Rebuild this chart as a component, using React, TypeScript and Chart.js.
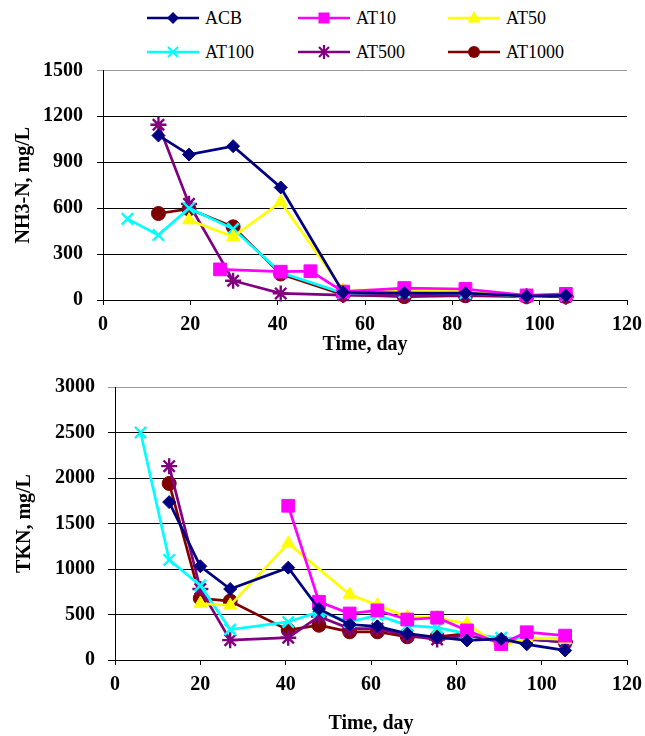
import React, { useEffect, useRef } from 'react';
import { Chart, registerables } from 'chart.js';

Chart.register(...registerables);

// ---------- data ----------
const SERIES_NAMES = ['ACB', 'AT10', 'AT50', 'AT100', 'AT500', 'AT1000'];

// NH3-N (top chart)
const NH3_ACB_DAYS = [12.7, 19.7, 29.8, 40.7, 55, 69, 83, 97, 106];
const NH3_ACB = [1075, 950, 1005, 735, 50, 45, 45, 25, 30];
const NH3_AT10_DAYS = [26.8, 40.7, 47.5, 55, 69, 83, 97, 106];
const NH3_AT10 = [200, 185, 188, 55, 78, 72, 30, 40];
const NH3_AT50_DAYS = [19.7, 29.8, 40.7, 55, 69, 83, 97, 106];
const NH3_AT50 = [522, 413, 640, 65, 65, 58, 20, 35];
const NH3_AT100_DAYS = [5.6, 12.7, 19.7, 29.8, 40.7, 55, 69, 83, 97, 106];
const NH3_AT100 = [530, 424, 600, 465, 180, 45, 50, 45, 25, 30];
const NH3_AT500_DAYS = [12.7, 19.7, 29.8, 40.7, 55, 69, 83, 97, 106];
const NH3_AT500 = [1145, 628, 126, 43, 32, 28, 32, 25, 22];
const NH3_AT1000_DAYS = [12.7, 19.7, 29.8, 40.7, 55, 69, 83, 97, 106];
const NH3_AT1000 = [565, 595, 478, 170, 35, 22, 28, 22, 22];

// TKN (bottom chart)
const TKN_ACB_DAYS = [12.7, 20, 27, 40.6, 47.8, 55, 61.5, 68.5, 75.5, 82.5, 90.5, 96.5, 105.5];
const TKN_ACB = [1735, 1030, 780, 1015, 560, 390, 370, 290, 250, 215, 232, 172, 105];
const TKN_AT10_DAYS = [40.6, 47.8, 55, 61.5, 68.5, 75.5, 82.5, 90.5, 96.5, 105.5];
const TKN_AT10 = [1695, 640, 511, 545, 445, 465, 325, 175, 305, 268];
const TKN_AT50_DAYS = [20, 27, 40.6, 55, 61.5, 68.5, 75.5, 82.5, 90.5, 96.5, 105.5];
const TKN_AT50 = [620, 600, 1282, 720, 603, 474, 463, 398, 145, 245, 225];
const TKN_AT100_DAYS = [6, 12.7, 20, 27, 40.6, 47.8, 55, 61.5, 68.5, 75.5, 82.5, 90.5, 96.5, 105.5];
const TKN_AT100 = [2500, 1100, 820, 335, 418, 530, 420, 492, 381, 355, 290, 244, 235, 233];
const TKN_AT500_DAYS = [12.7, 20, 27, 40.6, 47.8, 55, 61.5, 68.5, 75.5, 82.5, 90.5, 96.5, 105.5];
const TKN_AT500 = [2130, 780, 218, 245, 478, 345, 345, 270, 225, 272, 200, 225, 200];
const TKN_AT1000_DAYS = [12.7, 20, 27, 40.6, 47.8, 55, 61.5, 68.5, 75.5, 82.5, 90.5, 96.5, 105.5];
const TKN_AT1000 = [1940, 678, 648, 328, 382, 310, 310, 255, 255, 289, 190, 233, 196];

const X_TICKS = [0, 20, 40, 60, 80, 100, 120];
const NH3_Y_TICKS = [0, 300, 600, 900, 1200, 1500];
const TKN_Y_TICKS = [0, 500, 1000, 1500, 2000, 2500, 3000];

// ---------- styles ----------
const COLORS = ['#000080', '#FF00FF', '#FFFF00', '#00FFFF', '#800080', '#800000'];
const POINT_STYLES = ['rectRot', 'rect', 'triangle', 'crossRot', 'star', 'circle'];
const POINT_RADII = [6.5, 9, 7.5, 8, 8, 7];
const FONT = '"Liberation Serif", "Times New Roman", serif';

function pairs(days: number[], vals: number[]) {
  return days.map((d, i) => ({ x: d, y: vals[i] }));
}

const NH3_DATA = [
  pairs(NH3_ACB_DAYS, NH3_ACB),
  pairs(NH3_AT10_DAYS, NH3_AT10),
  pairs(NH3_AT50_DAYS, NH3_AT50),
  pairs(NH3_AT100_DAYS, NH3_AT100),
  pairs(NH3_AT500_DAYS, NH3_AT500),
  pairs(NH3_AT1000_DAYS, NH3_AT1000),
];
const TKN_DATA = [
  pairs(TKN_ACB_DAYS, TKN_ACB),
  pairs(TKN_AT10_DAYS, TKN_AT10),
  pairs(TKN_AT50_DAYS, TKN_AT50),
  pairs(TKN_AT100_DAYS, TKN_AT100),
  pairs(TKN_AT500_DAYS, TKN_AT500),
  pairs(TKN_AT1000_DAYS, TKN_AT1000),
];

type Cfg = {
  data: { x: number; y: number }[][];
  yTicks: number[];
  yTitle: string;
  yWidth: number;
  xHeight: number;
  padTop: number;
  padRight: number;
  yTickLen: number;
  yTickPad: number;
  xTickPad: number;
  xTitlePadBottom: number;
  yTitlePadTop: number;
};

function makeChart(canvas: HTMLCanvasElement, cfg: Cfg) {
  const yMax = cfg.yTicks[cfg.yTicks.length - 1];
  const yStep = cfg.yTicks[1] - cfg.yTicks[0];
  return new Chart(canvas, {
    type: 'line',
    data: {
      datasets: cfg.data.map((d, i) => ({
        label: SERIES_NAMES[i],
        data: d,
        borderColor: COLORS[i],
        backgroundColor: COLORS[i],
        pointBackgroundColor: COLORS[i],
        pointBorderColor: COLORS[i],
        pointStyle: POINT_STYLES[i] as any,
        pointRadius: POINT_RADII[i],
        pointBorderWidth: i === 3 || i === 4 ? 2.4 : 1,
        borderWidth: 2.7,
        tension: 0,
        clip: false as any,
      })),
    },
    options: {
      animation: false,
      responsive: false,
      events: [],
      layout: { padding: { top: cfg.padTop, right: cfg.padRight, left: 0, bottom: 0 } },
      plugins: { legend: { display: false }, tooltip: { enabled: false } },
      scales: {
        x: {
          type: 'linear',
          min: X_TICKS[0],
          max: X_TICKS[X_TICKS.length - 1],
          afterBuildTicks: (s: any) => {
            s.ticks = X_TICKS.map((v) => ({ value: v }));
          },
          afterFit: (s: any) => {
            s.height = cfg.xHeight;
            s.paddingLeft = 0;
            s.paddingRight = 0;
            s.paddingTop = 0;
            s.paddingBottom = 0;
          },
          border: { display: true, color: '#000', width: 1 },
          grid: { drawOnChartArea: false, drawTicks: true, tickLength: 5, color: '#000' },
          ticks: {
            color: '#000',
            padding: cfg.xTickPad,
            font: { family: FONT, size: 20, weight: 'bold' },
            maxRotation: 0,
            callback: (v: any) => String(v),
          },
          title: {
            display: true,
            text: 'Time, day',
            color: '#000',
            font: { family: FONT, size: 20, weight: 'bold' },
            padding: { top: 0, bottom: cfg.xTitlePadBottom },
          },
        },
        y: {
          type: 'linear',
          min: 0,
          max: yMax,
          afterBuildTicks: (s: any) => {
            s.ticks = cfg.yTicks.map((v) => ({ value: v }));
          },
          afterFit: (s: any) => {
            s.width = cfg.yWidth;
            s.paddingTop = 0;
            s.paddingBottom = 0;
            s.paddingLeft = 0;
            s.paddingRight = 0;
          },
          border: { display: true, color: '#000', width: 1 },
          grid: {
            drawOnChartArea: true,
            drawTicks: true,
            tickLength: cfg.yTickLen,
            color: (ctx: any) => (ctx.tick && ctx.tick.value === yMax ? '#9a9a9a' : '#000'),
            lineWidth: 1,
          },
          ticks: {
            color: '#000',
            padding: cfg.yTickPad,
            stepSize: yStep,
            font: { family: FONT, size: 20, weight: 'bold' },
            callback: (v: any) => String(v),
          },
          title: {
            display: true,
            text: cfg.yTitle,
            color: '#000',
            font: { family: FONT, size: 20, weight: 'bold' },
            padding: { top: cfg.yTitlePadTop, bottom: 0 },
          },
        },
      },
    } as any,
  });
}

function ChartCanvas({ cfg, top, height }: { cfg: Cfg; top: number; height: number }) {
  const ref = useRef<HTMLCanvasElement>(null);
  useEffect(() => {
    if (!ref.current) return;
    const c = makeChart(ref.current, cfg);
    return () => c.destroy();
  }, []);
  return (
    <div style={{ position: 'absolute', left: 0, top, width: 645, height }}>
      <canvas ref={ref} width={645} height={height} style={{ display: 'block', width: 645, height }} />
    </div>
  );
}

function Marker({ i }: { i: number }) {
  const c = COLORS[i];
  const cx = 26;
  const cy = 9;
  let m: any = null;
  if (i === 0) m = <polygon points={`${cx},${cy - 6} ${cx + 6},${cy} ${cx},${cy + 6} ${cx - 6},${cy}`} fill={c} />;
  if (i === 1) m = <rect x={cx - 5.5} y={cy - 5.5} width={11} height={11} fill={c} />;
  if (i === 2) m = <polygon points={`${cx},${cy - 7} ${cx + 6.5},${cy + 4.5} ${cx - 6.5},${cy + 4.5}`} fill={c} />;
  if (i === 3)
    m = (
      <g stroke={c} strokeWidth={2.2}>
        <line x1={cx - 5} y1={cy - 5} x2={cx + 5} y2={cy + 5} />
        <line x1={cx - 5} y1={cy + 5} x2={cx + 5} y2={cy - 5} />
      </g>
    );
  if (i === 4)
    m = (
      <g stroke={c} strokeWidth={2.2}>
        <line x1={cx - 5} y1={cy - 5} x2={cx + 5} y2={cy + 5} />
        <line x1={cx - 5} y1={cy + 5} x2={cx + 5} y2={cy - 5} />
        <line x1={cx} y1={cy - 7} x2={cx} y2={cy + 7} />
      </g>
    );
  if (i === 5) m = <circle cx={cx} cy={cy} r={6} fill={c} />;
  return (
    <svg width={52} height={18} style={{ display: 'block' }}>
      <line x1={0} y1={cy} x2={52} y2={cy} stroke={c} strokeWidth={2.6} />
      {m}
    </svg>
  );
}

const LEGEND_COL_X = [147, 298, 448];
const LEGEND_ROW_Y = [18, 52];

function Legend() {
  return (
    <>
      {SERIES_NAMES.map((name, i) => {
        const col = i % 3;
        const row = Math.floor(i / 3);
        return (
          <div
            key={name}
            style={{
              position: 'absolute',
              left: LEGEND_COL_X[col],
              top: LEGEND_ROW_Y[row] - 12,
              height: 24,
              display: 'flex',
              alignItems: 'center',
              fontFamily: FONT,
              fontSize: 18,
              color: '#000',
              whiteSpace: 'nowrap',
            }}
          >
            <Marker i={i} />
            <span style={{ marginLeft: 6, lineHeight: '24px' }}>{name}</span>
          </div>
        );
      })}
    </>
  );
}

const TOP_CFG: Cfg = {
  data: NH3_DATA,
  yTicks: NH3_Y_TICKS,
  yTitle: 'NH3-N, mg/L',
  yWidth: 103,
  xHeight: 60,
  padTop: 10,
  padRight: 18,
  yTickLen: 6,
  yTickPad: 14,
  xTickPad: 8,
  xTitlePadBottom: 3,
  yTitlePadTop: 12,
};

const BOTTOM_CFG: Cfg = {
  data: TKN_DATA,
  yTicks: TKN_Y_TICKS,
  yTitle: 'TKN, mg/L',
  yWidth: 115,
  xHeight: 76,
  padTop: 17,
  padRight: 18,
  yTickLen: 7,
  yTickPad: 13,
  xTickPad: 8,
  xTitlePadBottom: 0,
  yTitlePadTop: 13,
};

export default function App() {
  return (
    <div style={{ position: 'absolute', left: 0, top: 0, width: 645, height: 736, background: '#fff' }}>
      <Legend />
      <ChartCanvas cfg={TOP_CFG} top={60} height={300} />
      <ChartCanvas cfg={BOTTOM_CFG} top={370} height={366} />
    </div>
  );
}
